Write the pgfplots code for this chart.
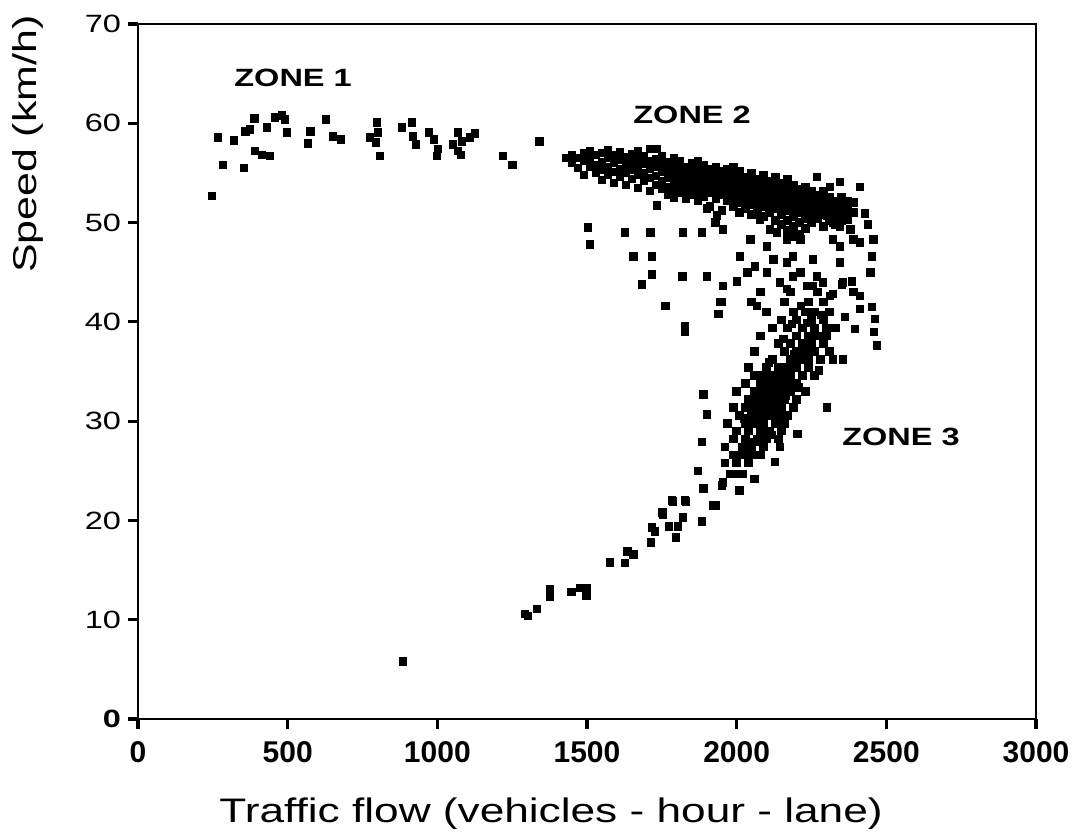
\documentclass[border=0pt]{standalone}
\usepackage{pgfplots}
\pgfplotsset{compat=1.18}
\usepackage{fontspec}
\setmainfont{Liberation Sans}
\newfontfamily\wide[FakeStretch=1.3]{Liberation Sans}

\begin{document}
\begin{tikzpicture}
\begin{axis}[
  scale only axis,
  width=449pt, height=347.5pt,
  xmin=0, xmax=3000, ymin=0, ymax=70,
  xtick={0,500,1000,1500,2000,2500,3000},
  xticklabels={0,500,1000,1500,2000,2500,3000},
  ytick={0,10,20,30,40,50,60,70},
  yticklabels={\textbf{0},10,20,30,40,50,60,70},
  tick pos=left,
  tick align=outside,
  major tick length=5pt,
  tick style={black, line width=1.6pt},
  axis line style={black, line width=1.4pt},
  xticklabel style={font=\bfseries\fontsize{15}{18}\selectfont, yshift=-3pt},
  yticklabel style={font=\wide\fontsize{12.5}{15}\selectfont},
  xlabel={Traffic flow (vehicles - hour - lane)},
  ylabel={Speed (km/h)},
  xlabel style={font=\wide\fontsize{17}{20}\selectfont, at={(rel axis cs:0.46,0)}, anchor=north, yshift=-36pt},
  ylabel style={font=\wide\fontsize{16.5}{20}\selectfont, at={(rel axis cs:-0.1225,0.827)}, anchor=center},
  clip=false,
]
\addplot[only marks, mark=square*, mark size=1.9pt, black] table[row sep=\\]{
x y\\
247 52.7\\ 267 58.6\\ 284 55.8\\ 321 58.3\\ 354 55.5\\ 358 59.2\\ 374 59.4\\ 388 60.5\\
391 57.2\\ 414 56.8\\ 431 59.6\\ 441 56.7\\ 458 60.6\\ 481 60.8\\ 491 60.4\\ 498 59.1\\
568 58.0\\ 575 59.2\\ 628 60.4\\ 651 58.7\\ 678 58.4\\ 775 58.6\\ 795 58.1\\ 798 60.1\\
802 59.1\\ 808 56.7\\ 882 59.6\\ 915 60.1\\ 919 58.7\\ 929 57.9\\ 972 59.1\\ 989 58.4\\
999 56.7\\ 1002 57.4\\ 1052 57.9\\ 1069 59.1\\ 1069 57.2\\ 1079 56.8\\ 1082 58.2\\ 1109 58.6\\
1126 59.0\\ 1219 56.7\\ 1250 55.8\\ 1340 58.2\\ 885 5.8\\
1430 56.5\\ 1450 56.0\\ 1450 56.8\\ 1470 55.5\\ 1470 56.5\\
1490 56.2\\ 1490 57.0\\ 1490 54.8\\ 1510 55.6\\ 1510 56.4\\ 1510 57.2\\
1530 55.0\\ 1530 55.8\\ 1530 56.8\\ 1550 54.3\\ 1550 55.3\\ 1550 56.1\\ 1550 57.0\\
1570 54.8\\ 1570 55.6\\ 1570 56.5\\ 1570 57.3\\ 1590 54.0\\ 1590 55.1\\ 1590 56.0\\ 1590 56.8\\
1610 54.6\\ 1610 55.4\\ 1610 56.3\\ 1610 57.1\\ 1630 53.8\\ 1630 55.0\\ 1630 55.8\\ 1630 56.6\\
1650 54.4\\ 1650 55.3\\ 1650 56.1\\ 1650 56.9\\ 1670 53.5\\ 1670 54.8\\ 1670 55.6\\ 1670 56.4\\ 1670 57.2\\
1690 54.2\\ 1690 55.0\\ 1690 55.9\\ 1690 56.7\\ 1710 53.2\\ 1710 54.5\\ 1710 55.4\\ 1710 56.2\\ 1710 57.4\\
1730 53.8\\ 1730 54.7\\ 1730 55.6\\ 1730 56.4\\ 1750 53.4\\ 1750 54.2\\ 1750 55.1\\ 1750 55.9\\ 1750 56.7\\
1770 52.8\\ 1770 53.6\\ 1770 54.5\\ 1770 55.3\\ 1770 56.1\\
1790 52.5\\ 1790 53.3\\ 1790 54.1\\ 1790 54.9\\ 1790 55.7\\ 1790 56.5\\
1810 53.0\\ 1810 53.8\\ 1810 54.6\\ 1810 55.4\\ 1810 56.2\\
1830 52.4\\ 1830 53.2\\ 1830 54.0\\ 1830 54.8\\ 1830 55.6\\
1850 52.8\\ 1850 53.6\\ 1850 54.4\\ 1850 55.2\\ 1850 56.0\\
1870 52.2\\ 1870 53.0\\ 1870 53.8\\ 1870 54.6\\ 1870 55.4\\ 1870 56.2\\
1890 52.6\\ 1890 53.4\\ 1890 54.2\\ 1890 55.0\\ 1890 55.8\\
1910 51.6\\ 1910 53.0\\ 1910 53.8\\ 1910 54.6\\ 1910 55.4\\
1930 52.4\\ 1930 53.2\\ 1930 54.0\\ 1930 54.8\\ 1930 55.6\\
1950 51.2\\ 1950 52.8\\ 1950 53.6\\ 1950 54.4\\ 1950 55.2\\
1970 52.2\\ 1970 53.0\\ 1970 53.8\\ 1970 54.6\\ 1970 55.4\\
1990 51.6\\ 1990 52.4\\ 1990 53.2\\ 1990 54.0\\ 1990 54.8\\ 1990 55.6\\
2010 51.0\\ 2010 52.0\\ 2010 52.8\\ 2010 53.6\\ 2010 54.4\\ 2010 55.2\\
2030 51.4\\ 2030 52.2\\ 2030 53.0\\ 2030 53.8\\ 2030 54.6\\
2050 50.8\\ 2050 51.8\\ 2050 52.6\\ 2050 53.4\\ 2050 54.2\\ 2050 55.0\\
2070 51.2\\ 2070 52.0\\ 2070 52.8\\ 2070 53.6\\ 2070 54.4\\
2090 50.6\\ 2090 51.6\\ 2090 52.4\\ 2090 53.2\\ 2090 54.0\\ 2090 54.8\\
2110 51.0\\ 2110 51.8\\ 2110 52.6\\ 2110 53.4\\ 2110 54.2\\
2130 50.2\\ 2130 51.4\\ 2130 52.2\\ 2130 53.0\\ 2130 53.8\\ 2130 54.6\\
2150 49.8\\ 2150 50.8\\ 2150 51.6\\ 2150 52.4\\ 2150 53.2\\ 2150 54.0\\
2170 49.2\\ 2170 50.2\\ 2170 51.2\\ 2170 52.0\\ 2170 52.8\\ 2170 53.6\\ 2170 54.4\\
2190 48.6\\ 2190 49.6\\ 2190 50.6\\ 2190 51.4\\ 2190 52.2\\ 2190 53.0\\ 2190 53.8\\
2210 48.8\\ 2210 50.0\\ 2210 51.0\\ 2210 51.8\\ 2210 52.6\\ 2210 53.4\\
2230 49.4\\ 2230 50.4\\ 2230 51.2\\ 2230 52.0\\ 2230 52.8\\ 2230 53.6\\
2250 50.0\\ 2250 50.8\\ 2250 51.6\\ 2250 52.4\\ 2250 53.2\\
2270 50.4\\ 2270 51.2\\ 2270 52.0\\ 2270 52.8\\
2290 49.6\\ 2290 50.8\\ 2290 51.6\\ 2290 52.4\\ 2290 53.2\\
2310 50.2\\ 2310 51.0\\ 2310 51.8\\ 2310 52.6\\
2330 49.8\\ 2330 50.6\\ 2330 51.4\\ 2330 52.2\\
2350 50.2\\ 2350 51.0\\ 2350 51.8\\ 2350 52.6\\
2370 50.6\\ 2370 51.4\\ 2370 52.2\\ 2390 51.0\\ 2390 52.0\\
1503 49.5\\ 1510 47.8\\ 1627 49.0\\ 1711 49.0\\ 1821 49.0\\ 1884 49.0\\ 1654 46.6\\ 1717 46.6\\
1717 44.8\\ 1684 43.8\\ 1818 44.6\\ 1901 44.6\\ 1764 41.6\\ 1827 39.6\\ 1827 39.0\\ 1951 42.0\\ 1954 43.6\\
2001 44.1\\ 2011 46.6\\ 2035 45.0\\ 2061 45.6\\ 2045 48.3\\ 2078 43.0\\ 2101 47.6\\ 2122 46.3\\
2145 44.0\\ 2168 46.0\\ 2188 46.6\\ 2212 45.0\\ 2235 43.6\\ 2255 46.3\\ 2268 44.6\\ 2288 44.0\\
2312 42.6\\ 2345 46.0\\ 2355 44.0\\ 2385 44.1\\ 2412 42.6\\ 2446 45.0\\ 2452 46.6\\ 2456 48.3\\
2439 49.8\\ 2429 50.9\\ 2412 53.6\\ 2312 53.6\\ 2268 54.6\\ 2345 49.6\\ 2379 49.3\\ 2389 48.3\\
2412 48.0\\ 2322 48.3\\ 2345 47.6\\ 2302 50.7\\ 2322 50.0\\ 2369 50.3\\ 2111 49.3\\ 2135 49.0\\
2188 49.0\\ 2212 48.3\\ 2168 48.3\\ 2078 50.3\\ 1928 50.0\\ 1934 50.7\\ 1734 51.7\\ 1901 51.4\\
1954 49.3\\ 2101 45.0\\ 2188 44.6\\ 1734 57.4\\ 2345 54.1\\
2168 43.3\\ 2255 43.6\\ 2322 42.8\\ 2352 43.8\\ 2389 43.0\\ 2068 41.6\\ 1944 42.0\\ 1938 40.8\\
2462 40.3\\ 2459 39.0\\ 2469 37.6\\ 2452 41.5\\ 2412 41.3\\ 2395 39.3\\ 2362 40.5\\ 2322 36.2\\ 2355 36.2\\
2302 31.4\\ 2202 28.7\\ 2145 27.4\\ 2078 27.9\\ 2128 25.9\\
1761 41.6\\ 1888 32.7\\ 1901 30.7\\ 1884 27.9\\ 1871 25.0\\ 1888 23.2\\ 1784 22.0\\ 1827 22.0\\ 1921 21.5\\
2080 43.0\\ 2180 43.0\\ 2270 43.0\\ 2050 42.0\\ 2160 42.0\\ 2240 42.0\\ 2290 42.0\\
2100 41.0\\ 2190 41.0\\ 2230 41.0\\ 2260 41.0\\ 2310 41.0\\
2150 40.2\\ 2200 40.2\\ 2250 40.2\\ 2290 40.2\\
2120 39.4\\ 2170 39.4\\ 2220 39.4\\ 2260 39.4\\ 2300 39.4\\ 2330 39.4\\
2080 38.6\\ 2200 38.6\\ 2240 38.6\\ 2270 38.6\\ 2300 38.6\\
2140 37.8\\ 2180 37.8\\ 2220 37.8\\ 2250 37.8\\ 2290 37.8\\
2060 37.0\\ 2160 37.0\\ 2200 37.0\\ 2230 37.0\\ 2260 37.0\\ 2310 37.0\\
2120 36.2\\ 2180 36.2\\ 2210 36.2\\ 2240 36.2\\ 2280 36.2\\
2040 35.4\\ 2100 35.4\\ 2140 35.4\\ 2170 35.4\\ 2200 35.4\\ 2240 35.4\\
2060 34.6\\ 2090 34.6\\ 2120 34.6\\ 2150 34.6\\ 2180 34.6\\ 2220 34.6\\ 2260 34.6\\
2030 33.8\\ 2080 33.8\\ 2110 33.8\\ 2140 33.8\\ 2170 33.8\\ 2200 33.8\\
2000 33.0\\ 2060 33.0\\ 2090 33.0\\ 2120 33.0\\ 2150 33.0\\ 2180 33.0\\ 2230 33.0\\
2040 32.2\\ 2070 32.2\\ 2100 32.2\\ 2130 32.2\\ 2160 32.2\\ 2200 32.2\\
1990 31.4\\ 2030 31.4\\ 2060 31.4\\ 2090 31.4\\ 2120 31.4\\ 2150 31.4\\ 2190 31.4\\
2010 30.6\\ 2050 30.6\\ 2080 30.6\\ 2110 30.6\\ 2140 30.6\\ 2170 30.6\\
1970 29.8\\ 2030 29.8\\ 2060 29.8\\ 2090 29.8\\ 2130 29.8\\ 2160 29.8\\
2000 29.0\\ 2040 29.0\\ 2080 29.0\\ 2110 29.0\\ 2150 29.0\\
1990 28.2\\ 2030 28.2\\ 2070 28.2\\ 2100 28.2\\ 2140 28.2\\
1960 27.4\\ 2020 27.4\\ 2050 27.4\\ 2090 27.4\\
1990 26.6\\ 2020 26.6\\ 2050 26.6\\ 2080 26.6\\
1960 25.8\\ 2000 25.8\\ 2040 25.8\\
1980 24.7\\ 2000 24.7\\ 2020 24.7\\ 2060 24.2\\ 1950 23.5\\ 2010 23.0\\
2157 38.3\\ 2193 36.7\\ 2236 39.9\\ 2275 35.1\\ 2206 33.4\\ 2107 35.9\\ 2072 30.1\\ 2163 32.6\\
2118 28.6\\ 2044 27.9\\ 2283 40.7\\ 2135 34.1\\ 2097 32.7\\ 2185 39.8\\ 2214 41.6\\ 2024 30.3\\
1293 10.6\\ 1303 10.4\\ 1333 11.1\\ 1376 13.1\\ 1376 12.3\\ 1447 12.8\\ 1477 13.2\\ 1500 13.2\\
1497 12.4\\ 1577 15.8\\ 1627 15.7\\ 1634 16.9\\ 1654 16.6\\ 1714 17.8\\ 1717 19.3\\ 1727 18.9\\
1751 20.8\\ 1754 20.6\\ 1774 19.4\\ 1797 18.3\\ 1787 21.9\\ 1804 19.4\\ 1821 20.3\\ 1831 21.9\\
1884 19.9\\ 1891 23.2\\ 1928 21.5\\ 1954 23.8\\
};
\node[font=\wide\bfseries\fontsize{12.5}{15}\selectfont] at (axis cs:518,64.6) {ZONE 1};
\node[font=\wide\bfseries\fontsize{12.5}{15}\selectfont] at (axis cs:1851,60.8) {ZONE 2};
\node[font=\wide\bfseries\fontsize{12.5}{15}\selectfont] at (axis cs:2549,28.4) {ZONE 3};
\coordinate (bl) at (rel axis cs:0,0);
\coordinate (tr) at (rel axis cs:1,1);
\end{axis}
\pgfresetboundingbox
\path[use as bounding box] ([xshift=-69pt,yshift=-59.5pt]bl) rectangle ([xshift=21.5pt,yshift=12pt]tr);
\end{tikzpicture}
\end{document}
